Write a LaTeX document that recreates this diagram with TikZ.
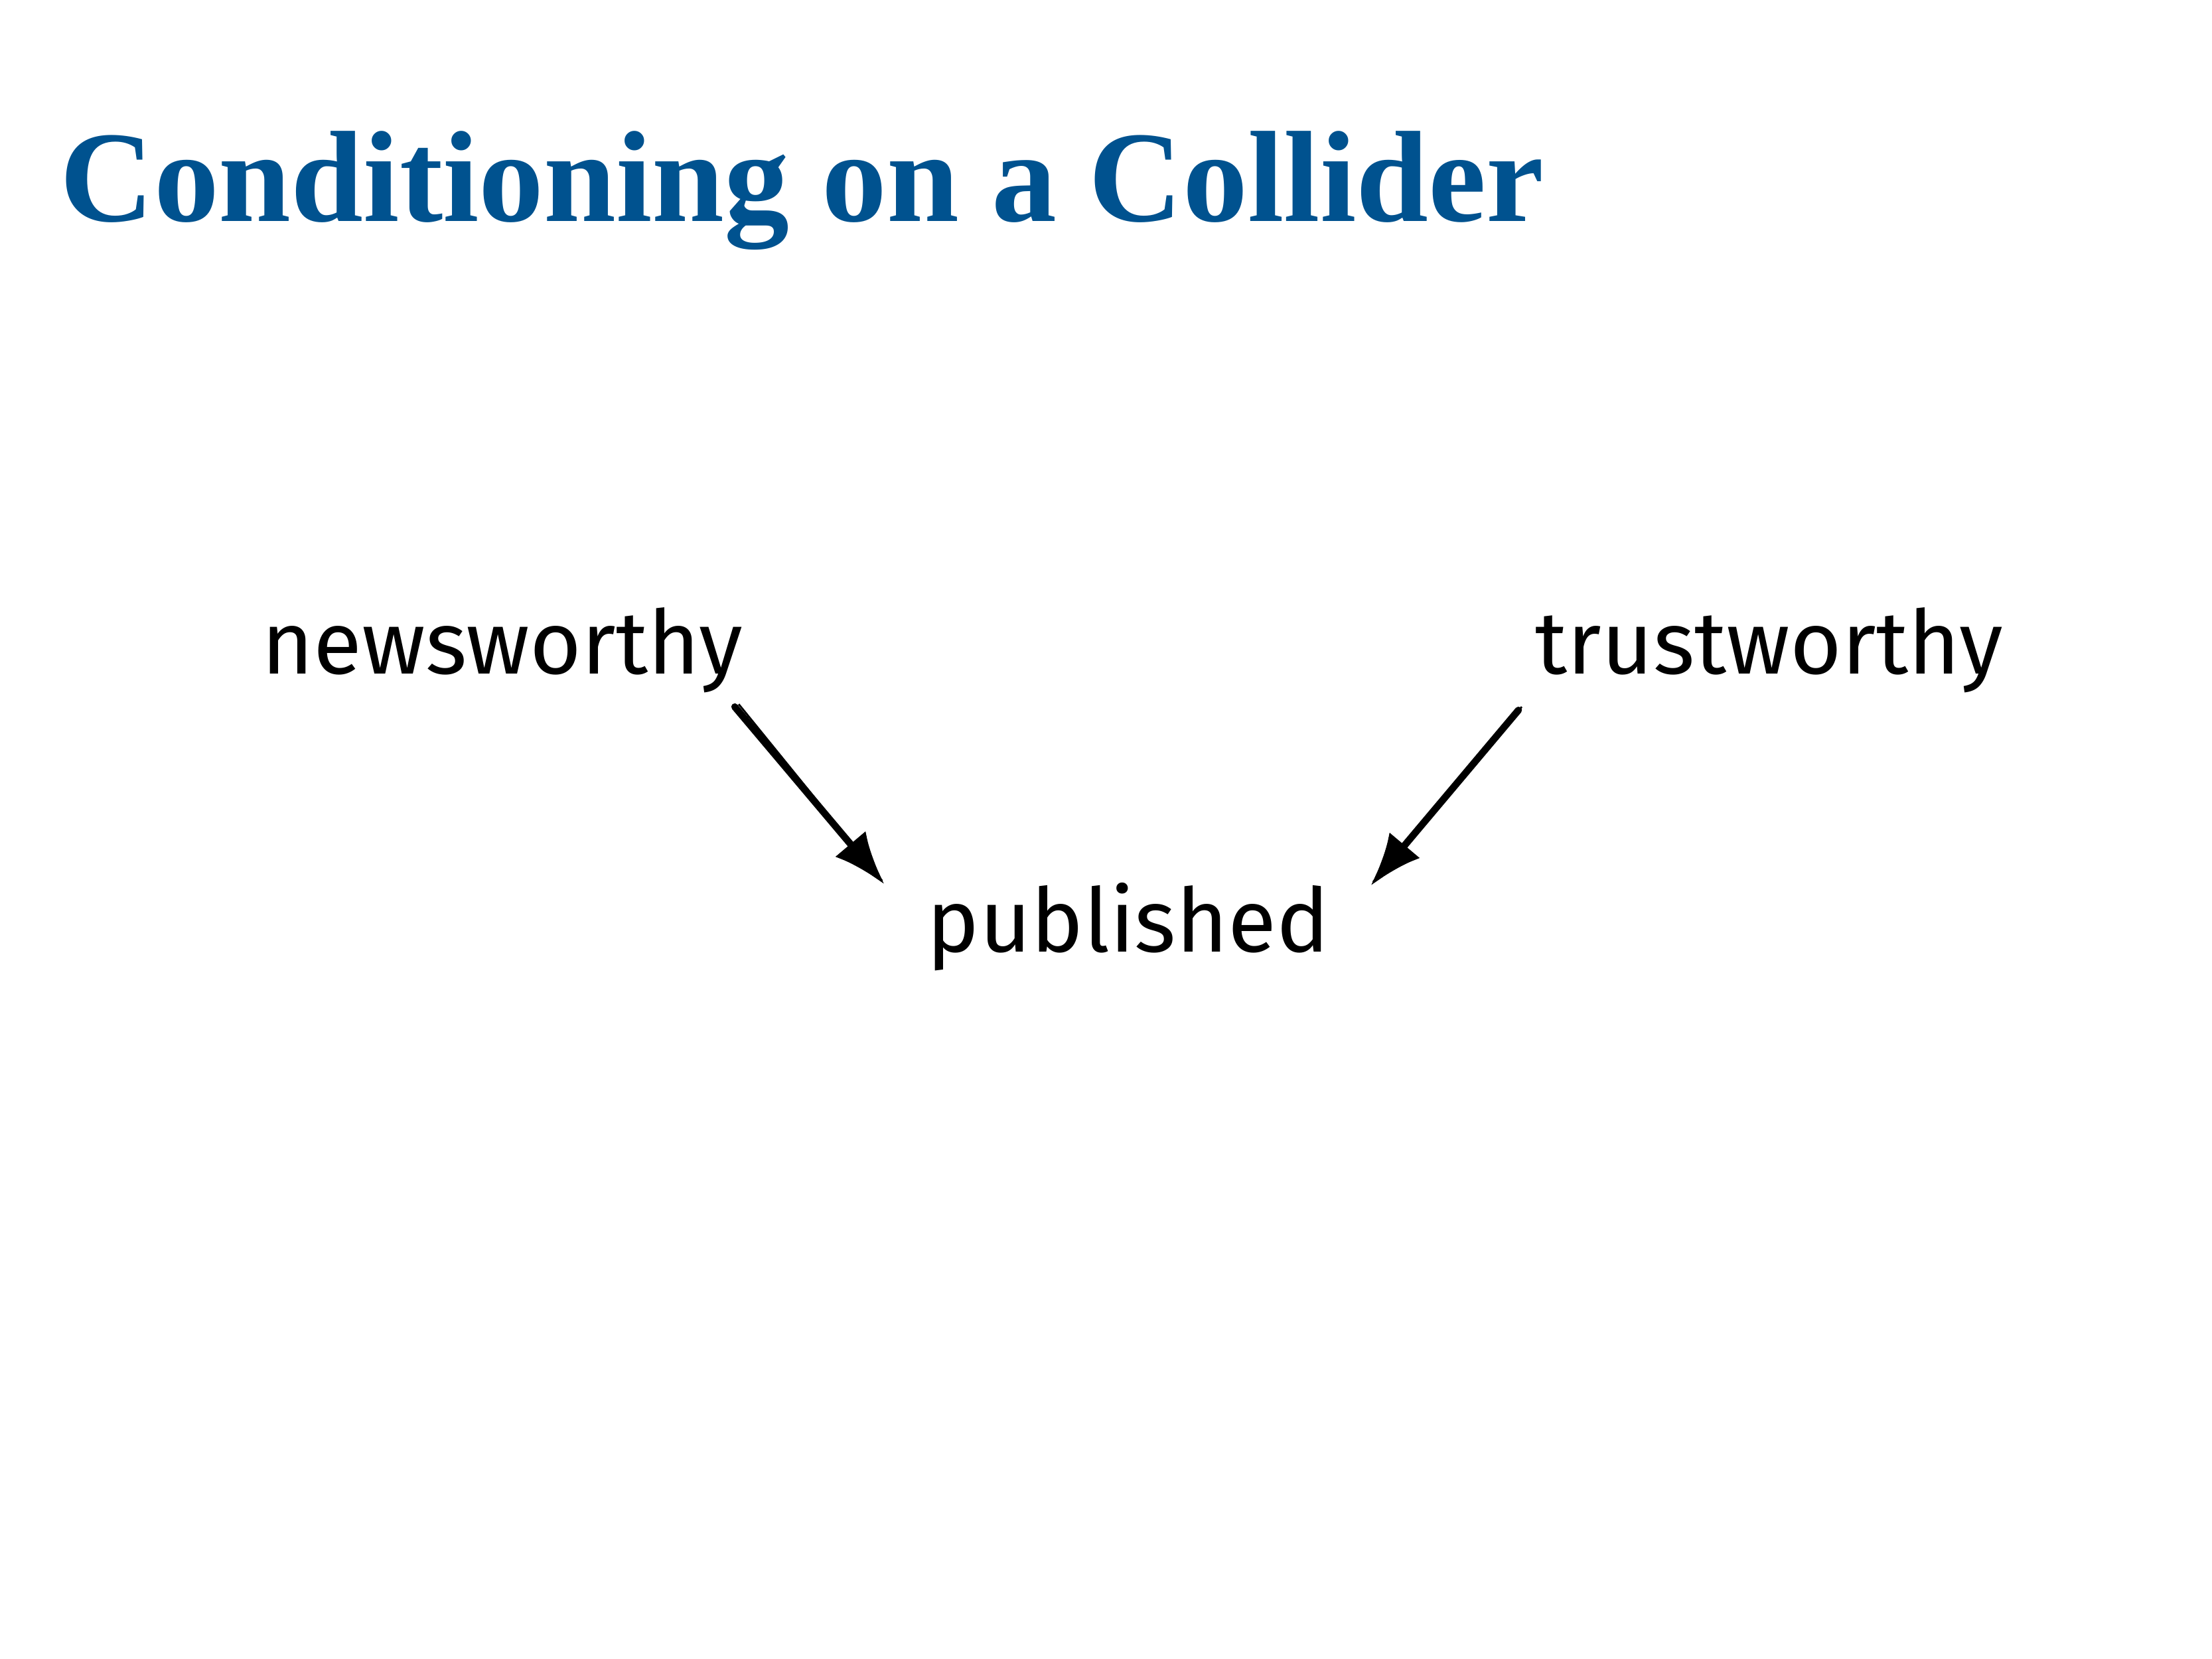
\documentclass[tikz,border=0pt]{standalone}
\usepackage{fontspec}
\setmainfont{Liberation Serif}
\newfontfamily\handfont{Fira Sans}
\usetikzlibrary{arrows.meta}
\definecolor{titleblue}{HTML}{00528F}
\begin{document}
\begin{tikzpicture}[>={Latex[length=0.8cm,width=0.6cm]}]
    \useasboundingbox (0,0) rectangle (33.33,25);
    \tikzset{
      label/.style={font=\handfont\fontsize{38}{42}\selectfont, inner sep=0.1cm},
      sketch/.style={->, line width=3pt, line cap=round}
    }
    \node[anchor=base west, text=titleblue, font=\bfseries\fontsize{55.7}{62}\selectfont, inner sep=0pt] (title) at (0.90,21.66) {Conditioning on a Collider};
    \node[label, anchor=base] (news) at (7.57,14.84) {newsworthy};
    \node[label, anchor=base] (trust) at (26.66,14.84) {trustworthy};
    \node[label, anchor=base] (pub) at (17.00,10.65) {published};
    \draw[sketch] ([shift={(-0.23,-0.1)}]news.south east) -- ([shift={(-0.53,-0.13)}]pub.north west);
    \draw[sketch] ([shift={(-0.15,-0.15)}]trust.south west) -- ([shift={(0.51,-0.15)}]pub.north east);
    \draw[line width=0.8pt] ([shift={(-0.17,-0.06)}]news.south east) -- ([shift={(-0.57,-0.07)}]pub.north west);
    \draw[line width=0.8pt] ([shift={(-0.1,-0.1)}]trust.south west) -- ([shift={(0.55,-0.09)}]pub.north east);
  \end{tikzpicture}
\end{document}
